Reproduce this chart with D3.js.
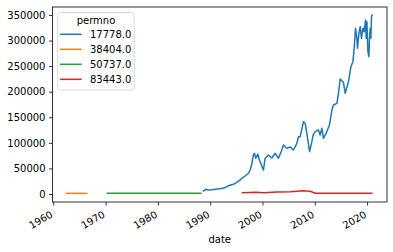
<!DOCTYPE html>
<html><head><meta charset="utf-8">
<script src="https://cdn.jsdelivr.net/npm/d3@7"></script>
<style>body{margin:0;background:#fff}svg{display:block;font-family:"DejaVu Sans",sans-serif}</style>
</head><body><svg id="c" width="393" height="252"></svg>
<script>
const seriesNames = ["17778.0", "38404.0", "50737.0", "83443.0"];
const colors = ["#1f77b4", "#ff7f0e", "#2ca02c", "#d62728"];
// 17778.0
const years17778 = [1988.70,1989.21,1989.65,1990.30,1990.94,1991.89,1992.85,1993.48,1994.44,1995.09,1995.72,1996.04,1996.67,1997.31,1997.63,1997.96,1998.26,1998.45,1998.72,1999.10,1999.41,1999.87,2000.18,2000.50,2001.13,2001.78,2002.41,2003.05,2003.70,2004.00,2004.65,2005.28,2005.92,2006.57,2006.87,2007.20,2007.83,2008.15,2008.48,2009.00,2009.44,2009.68,2010.06,2010.70,2011.02,2011.35,2011.65,2012.17,2012.80,2013.26,2013.57,2014.22,2014.52,2014.85,2015.48,2015.80,2016.44,2016.90,2017.28,2017.53,2017.78,2018.04,2018.16,2018.43,2018.68,2018.92,2019.19,2019.44,2019.69,2019.82,2019.96,2020.15,2020.34,2020.45,2020.59,2020.72,2020.84,2020.97];
const values17778 = [5900,9200,7800,8400,9200,10400,12300,16200,19000,22900,27400,30700,35200,40500,46900,58700,76300,79600,69800,78200,66500,54700,46900,69800,76300,70400,79600,69800,86000,95800,89400,91900,86000,99100,112000,112000,141400,138200,118700,82700,102300,115400,121800,125100,115400,128500,108900,118700,134900,164200,174000,177300,196900,224900,218000,196900,219600,248900,258700,284900,324000,304400,284900,314200,327100,304400,324000,317300,340200,304400,336900,278200,268500,304400,324000,304400,346700,350000];
// 38404.0
const years38404 = [1962.55,1964.5,1966.4];
const values38404 = [1300,1300,1300];
// 50737.0
const years50737 = [1970.33,1975,1980,1985,1988.2];
const values50737 = [1300,1300,1300,1300,1300];
// 83443.0
const years83443 = [1996.16,1998.9,2000.2,2002.7,2005.3,2007.8,2009.1,2010.1,2012.9,2020.9];
const values83443 = [2500,3300,2500,3900,4500,6500,5300,1400,1400,1400];
const xTicks = [1960,1970,1980,1990,2000,2010,2020];
const yTicks = [0,50000,100000,150000,200000,250000,300000,350000];

const svg = d3.select("#c");
const L=52.5, R=387, T=7, B=202;
const x = d3.scaleLinear().domain([1959.85, 2023.8]).range([L, R]);
const y = d3.scaleLinear().domain([-15640, 365600]).range([B, T]);

const data = [
  {name: seriesNames[0], yrs: years17778, vals: values17778},
  {name: seriesNames[1], yrs: years38404, vals: values38404},
  {name: seriesNames[2], yrs: years50737, vals: values50737},
  {name: seriesNames[3], yrs: years83443, vals: values83443}
];
const line = d3.line().x(d=>x(d[0])).y(d=>y(d[1]));
data.forEach((s,i)=>{
  svg.append("path").datum(d3.zip(s.yrs, s.vals))
    .attr("d", line).attr("fill","none").attr("stroke", colors[i])
    .attr("stroke-width",1.5).attr("stroke-linejoin","round").attr("stroke-linecap","square");
});

// axes
const yAxis = d3.axisLeft(y).tickValues(yTicks).tickSize(3.5).tickPadding(3.5).tickFormat(d3.format("d"));
const gy = svg.append("g").attr("transform",`translate(${L},0)`).call(yAxis);
gy.select(".domain").remove();
gy.selectAll("text").attr("font-size","10px").attr("fill","#000").attr("font-family","DejaVu Sans");
gy.selectAll("line").attr("stroke","#000").attr("stroke-width",0.8);

const xAxis = d3.axisBottom(x).tickValues(xTicks).tickSize(3.5).tickFormat(d3.format("d"));
const gx = svg.append("g").attr("transform",`translate(0,${B})`).call(xAxis);
gx.select(".domain").remove();
gx.selectAll("line").attr("stroke","#000").attr("stroke-width",0.8);
gx.selectAll("text").attr("font-size","10px").attr("fill","#000").attr("font-family","DejaVu Sans")
  .attr("text-anchor","end").attr("y",0).attr("dy","0.75em")
  .attr("transform","translate(-4,8) rotate(-30)");

// spines
svg.append("rect").attr("x",L).attr("y",T).attr("width",R-L).attr("height",B-T)
  .attr("fill","none").attr("stroke","#000").attr("stroke-width",0.8);

svg.append("text").attr("x",(L+R)/2).attr("y",243).attr("text-anchor","middle")
  .attr("font-size","10px").text("date");

// legend
const lg = svg.append("g");
lg.append("rect").attr("x",57.7).attr("y",12.5).attr("width",76.5).attr("height",77.5).attr("rx",2.5)
  .attr("fill","#fff").attr("fill-opacity",0.8).attr("stroke","#ccc").attr("stroke-width",0.8);
lg.append("text").attr("x",96).attr("y",23.5).attr("text-anchor","middle").attr("font-size","10px").text("permno");
data.forEach((s,i)=>{
  const yy = 34.3 + i*15;
  lg.append("line").attr("x1",60).attr("x2",81.7).attr("y1",yy).attr("y2",yy)
    .attr("stroke",colors[i]).attr("stroke-width",1.5);
  lg.append("text").attr("x",90).attr("y",yy+3.6).attr("font-size","10px").text(s.name);
});
</script></body></html>
